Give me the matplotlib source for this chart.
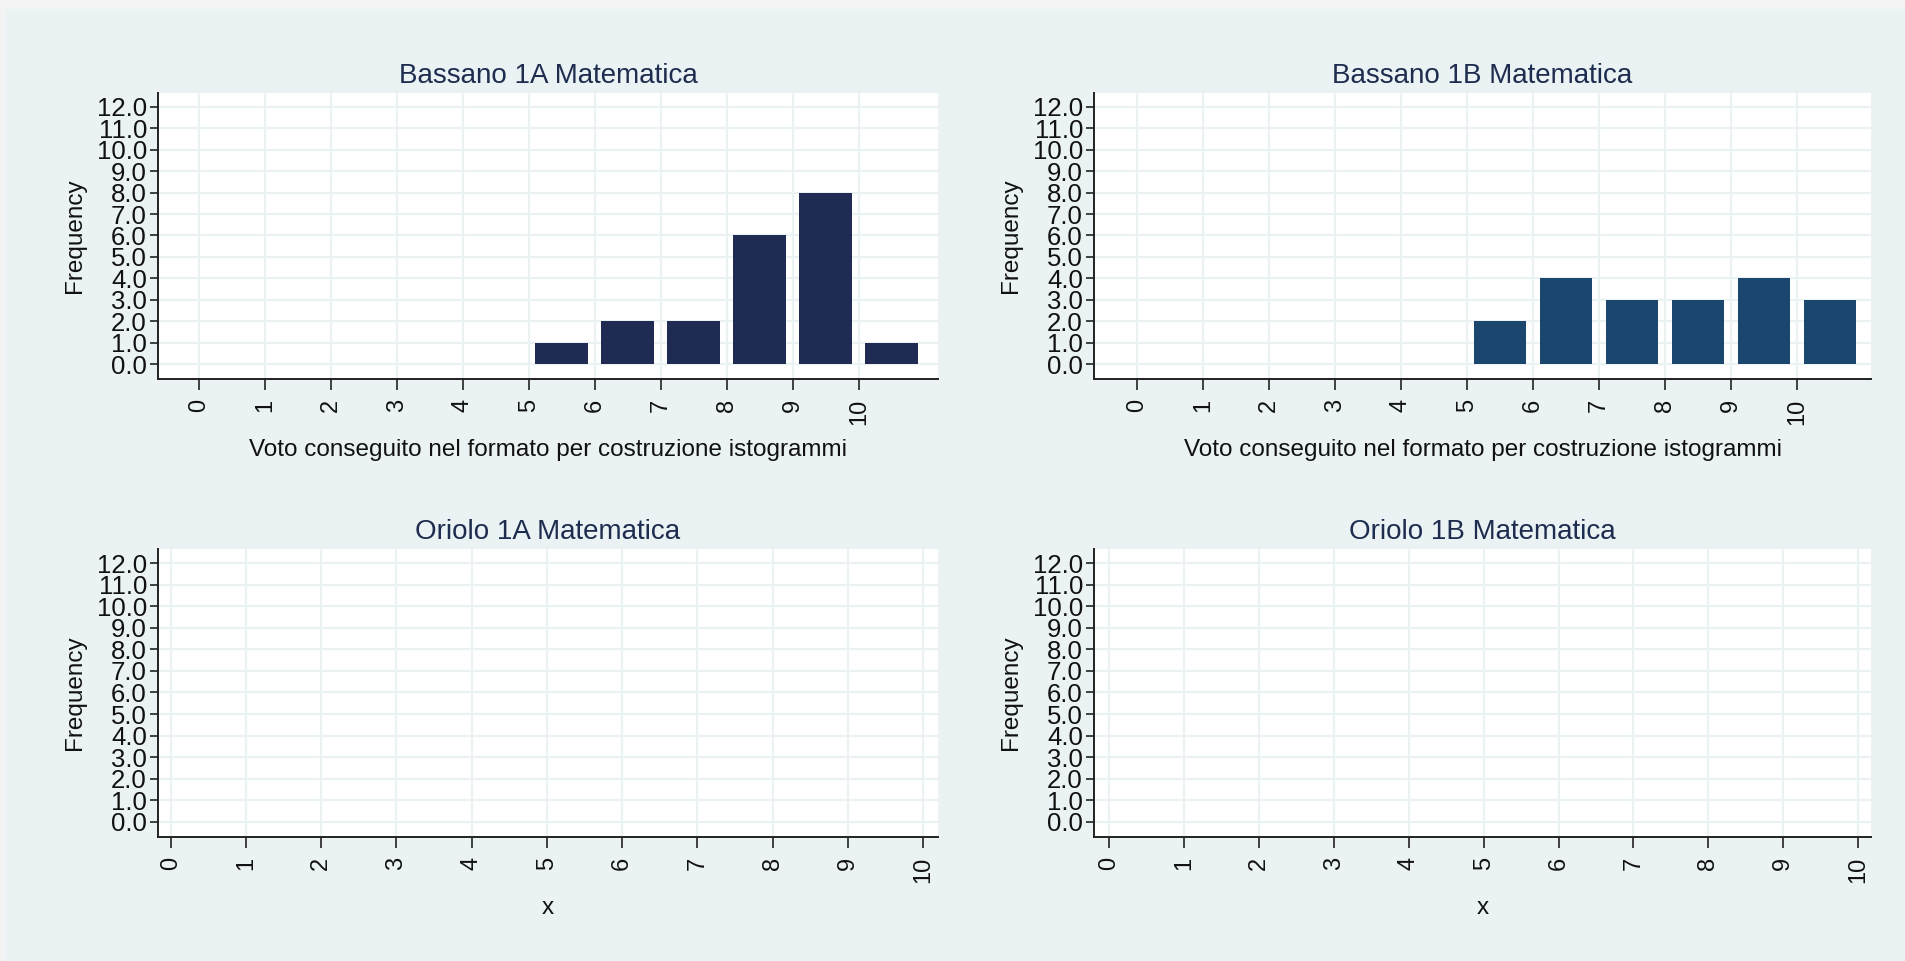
import matplotlib
matplotlib.use("Agg")
import matplotlib.pyplot as plt
from matplotlib.patches import Rectangle
import numpy as np

plt.rcParams['font.family'] = ['Liberation Sans', 'DejaVu Sans']

# ---- data ----
grades = [0, 1, 2, 3, 4, 5, 6, 7, 8, 9, 10]
counts_bassano_1a = [0, 0, 0, 0, 0, 1, 2, 2, 6, 8, 1]
counts_bassano_1b = [0, 0, 0, 0, 0, 2, 4, 3, 3, 4, 3]
counts_oriolo_1a = []
counts_oriolo_1b = []
titles = ["Bassano 1A Matematica", "Bassano 1B Matematica",
          "Oriolo 1A Matematica", "Oriolo 1B Matematica"]
xlabels = ["Voto conseguito nel formato per costruzione istogrammi",
           "Voto conseguito nel formato per costruzione istogrammi",
           "x", "x"]
ylabel = "Frequency"
yticks = [0, 1, 2, 3, 4, 5, 6, 7, 8, 9, 10, 11, 12]
ytick_labels = ["%.1f" % v for v in yticks]

BG = "#EAF2F3"
TITLE_C = "#1E2D4F"
W, H = 1905, 961
fig = plt.figure(figsize=(W / 100, H / 100), dpi=100, facecolor=BG)

# screenshot-like border strips
fig.patches.append(Rectangle((0, 1 - 9 / H), 1, 9 / H, transform=fig.transFigure,
                             facecolor="#F3F3F3", edgecolor="none", zorder=0))
fig.patches.append(Rectangle((0, 0), 5 / W, 1, transform=fig.transFigure,
                             facecolor="#F3F3F3", edgecolor="none", zorder=0))

def add_ax(left, right, top, bottom):
    return fig.add_axes([left / W, 1 - bottom / H, (right - left) / W, (bottom - top) / H])

panels = [
    dict(box=(158, 938, 93, 379), xlim=(-0.62, 11.2), counts=counts_bassano_1a,
         color="#1F2B52"),
    dict(box=(1094, 1871, 93, 379), xlim=(-0.65, 11.12), counts=counts_bassano_1b,
         color="#1B476E"),
    dict(box=(158, 938, 549, 837), xlim=(-0.17, 10.2), counts=counts_oriolo_1a,
         color="#1F2B52"),
    dict(box=(1094, 1871, 549, 837), xlim=(-0.2, 10.17), counts=counts_oriolo_1b,
         color="#1B476E"),
]

for i, p in enumerate(panels):
    ax = add_ax(*p["box"])
    ax.set_facecolor("white")
    if len(p["counts"]) > 0:
        x = np.array(grades[:len(p["counts"])]) + 0.5
        ax.bar(x, p["counts"], width=0.8, color=p["color"], linewidth=0, zorder=3)
    ax.set_xlim(*p["xlim"])
    ax.set_ylim(-0.70, 12.65)
    ax.set_yticks(yticks)
    ax.set_yticklabels(ytick_labels, fontsize=18.5, color="#111111")
    ax.set_xticks(grades)
    ax.set_xticklabels([str(g) for g in grades], rotation=90, fontsize=17,
                       color="#111111")
    ax.grid(True, color=BG, linewidth=1.6, zorder=0)
    ax.set_axisbelow(True)
    for s in ("top", "right"):
        ax.spines[s].set_visible(False)
    for s in ("left", "bottom"):
        ax.spines[s].set_color("#222222")
        ax.spines[s].set_linewidth(1.4)
    ax.tick_params(axis="y", length=6, width=1.2, color="#222222", pad=2)
    ax.tick_params(axis="x", length=8, width=1.2, color="#222222", pad=6)
    ax.set_title(titles[i], fontsize=20, color=TITLE_C, pad=7)
    ax.set_ylabel(ylabel, fontsize=17.5, labelpad=8, color="#111111")
    ax.set_xlabel(xlabels[i], fontsize=17.5, labelpad=10, color="#111111")

fig.savefig("out.png", dpi=100, facecolor=BG)
